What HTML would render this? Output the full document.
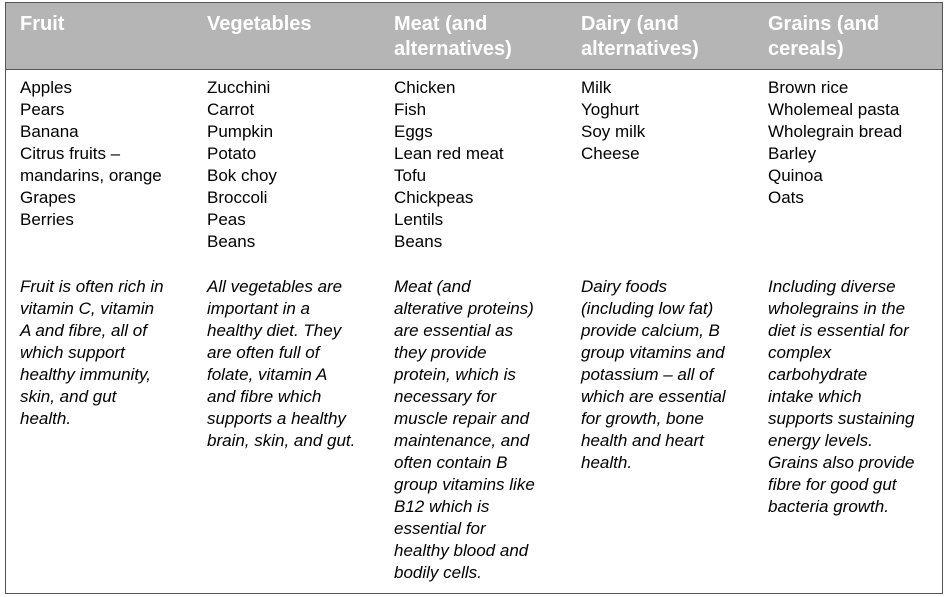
<!DOCTYPE html>
<html><head><meta charset="utf-8"><style>
html,body{margin:0;padding:0;background:#fff;width:948px;height:597px;overflow:hidden}
body{font-family:"Liberation Sans",Arial,sans-serif;color:#000}
#tbl{position:absolute;left:5px;top:2px;width:936px;height:590px;border:1px solid #555;}
#hdr{position:absolute;left:0;top:0;width:936px;height:66px;background:#b5b5b5;border-bottom:1px solid #555}
.h{position:absolute;top:9px;color:#fff;font-weight:bold;font-size:20px;line-height:25px}
.c{position:absolute;font-size:17px;line-height:22px;white-space:nowrap}
.p{position:absolute;top:273px;font-size:17px;line-height:22px;font-style:italic;white-space:nowrap}
</style></head><body>
<div id="tbl">
<div id="hdr">
<div class="h" style="left:14px">Fruit</div>
<div class="h" style="left:201px">Vegetables</div>
<div class="h" style="left:388px">Meat (and<br>alternatives)</div>
<div class="h" style="left:575px">Dairy (and<br>alternatives)</div>
<div class="h" style="left:762px">Grains (and<br>cereals)</div>
</div>
<div class="c" style="left:14px;top:74px">Apples<br>Pears<br>Banana<br>Citrus fruits –<br>mandarins, orange<br>Grapes<br>Berries</div>
<div class="c" style="left:201px;top:74px">Zucchini<br>Carrot<br>Pumpkin<br>Potato<br>Bok choy<br>Broccoli<br>Peas<br>Beans</div>
<div class="c" style="left:388px;top:74px">Chicken<br>Fish<br>Eggs<br>Lean red meat<br>Tofu<br>Chickpeas<br>Lentils<br>Beans</div>
<div class="c" style="left:575px;top:74px">Milk<br>Yoghurt<br>Soy milk<br>Cheese</div>
<div class="c" style="left:762px;top:74px">Brown rice<br>Wholemeal pasta<br>Wholegrain bread<br>Barley<br>Quinoa<br>Oats</div>
<div class="p" style="left:14px">Fruit is often rich in<br>vitamin C, vitamin<br>A and fibre, all of<br>which support<br>healthy immunity,<br>skin, and gut<br>health.</div>
<div class="p" style="left:201px">All vegetables are<br>important in a<br>healthy diet. They<br>are often full of<br>folate, vitamin A<br>and fibre which<br>supports a healthy<br>brain, skin, and gut.</div>
<div class="p" style="left:388px">Meat (and<br>alterative proteins)<br>are essential as<br>they provide<br>protein, which is<br>necessary for<br>muscle repair and<br>maintenance, and<br>often contain B<br>group vitamins like<br>B12 which is<br>essential for<br>healthy blood and<br>bodily cells.</div>
<div class="p" style="left:575px">Dairy foods<br>(including low fat)<br>provide calcium, B<br>group vitamins and<br>potassium – all of<br>which are essential<br>for growth, bone<br>health and heart<br>health.</div>
<div class="p" style="left:762px">Including diverse<br>wholegrains in the<br>diet is essential for<br>complex<br>carbohydrate<br>intake which<br>supports sustaining<br>energy levels.<br>Grains also provide<br>fibre for good gut<br>bacteria growth.</div>
</div>
</body></html>
